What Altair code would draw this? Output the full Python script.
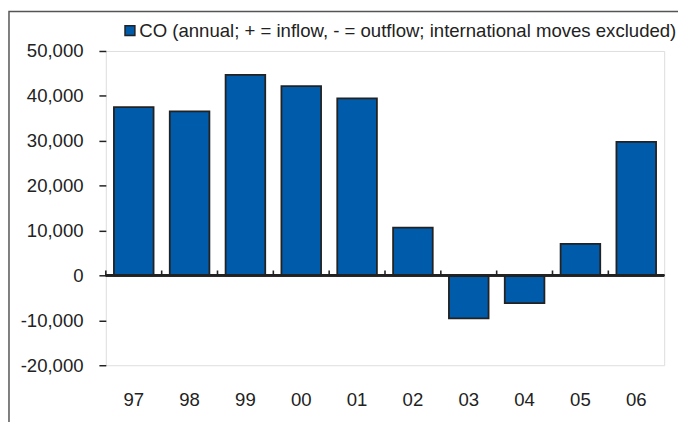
import altair as alt
import pandas as pd

years = ["97", "98", "99", "00", "01", "02", "03", "04", "05", "06"]
values = [37500, 36550, 44700, 42150, 39450, 10650, -9550, -6150, 7050, 29750]
series_label = "CO (annual; + = inflow, - = outflow; international moves excluded)"
y_ticks = [-20000, -10000, 0, 10000, 20000, 30000, 40000, 50000]

df = pd.DataFrame({"year": years, "value": values, "series": [series_label] * len(years)})

FONT = "Liberation Sans"
FS = 18.8
INK = "#222222"
BLUE = "#005BAA"
W = 565
STEP = W / len(years)

x_scale = alt.Scale(domain=years, paddingInner=0.29, paddingOuter=0.145)
y_scale = alt.Scale(domain=[-20000, 50000], nice=False, zero=False)

bars = alt.Chart(df).mark_bar(stroke=INK, strokeWidth=1.8).encode(
    x=alt.X("year:N", sort=years, scale=x_scale,
            axis=alt.Axis(orient="bottom", title=None, labelAngle=0, ticks=False, domain=False,
                          labelPadding=26, labelFontSize=FS, labelFont=FONT, labelColor=INK,
                          grid=False)),
    y=alt.Y("value:Q", scale=y_scale,
            axis=alt.Axis(title=None, values=y_ticks, domain=False, grid=False,
                          labelExpr="replace(format(datum.value, ','), '\u2212', '-')",
                          tickSize=7, tickColor=INK, tickWidth=1.5, labelPadding=16,
                          labelFontSize=FS, labelFont=FONT, labelColor=INK)),
    color=alt.Color("series:N", scale=alt.Scale(range=[BLUE]),
                    legend=alt.Legend(orient="none", legendX=15, legendY=-30, title=None,
                                      symbolType="square", symbolSize=100,
                                      symbolStrokeColor=INK, symbolStrokeWidth=1.5,
                                      labelFontSize=FS, labelFont=FONT, labelColor=INK,
                                      labelOffset=0, padding=0, labelLimit=0)),
)

zero_line = alt.Chart(df).mark_rule(color=INK, strokeWidth=1.8).encode(y=alt.datum(0))

# category tick marks on the zero line, at the boundaries between categories
cat_ticks = alt.Chart(df).mark_rule(
    color=INK, strokeWidth=1.6, xOffset=-STEP / 2, y2Offset=-5
).encode(
    x=alt.X("year:N", sort=years, scale=x_scale),
    y=alt.datum(0),
    y2=alt.datum(0),
)

outer_box = alt.Chart(alt.Data(values=[{}])).mark_rect(
    fillOpacity=0, stroke="#555555", strokeWidth=1.5
).encode(
    x=alt.value(-98), x2=alt.value(700), y=alt.value(-40), y2=alt.value(600)
)

chart = alt.layer(outer_box, bars, zero_line, cat_ticks).properties(
    width=W, height=318,
    autosize=alt.AutoSizeParams(type="none"),
    padding={"left": 99, "top": 41, "right": 14, "bottom": 60},
).configure_view(stroke=INK, strokeWidth=1.8).configure(background="white")

chart.save("out.html", embed_options={"renderer": "svg", "actions": False})
